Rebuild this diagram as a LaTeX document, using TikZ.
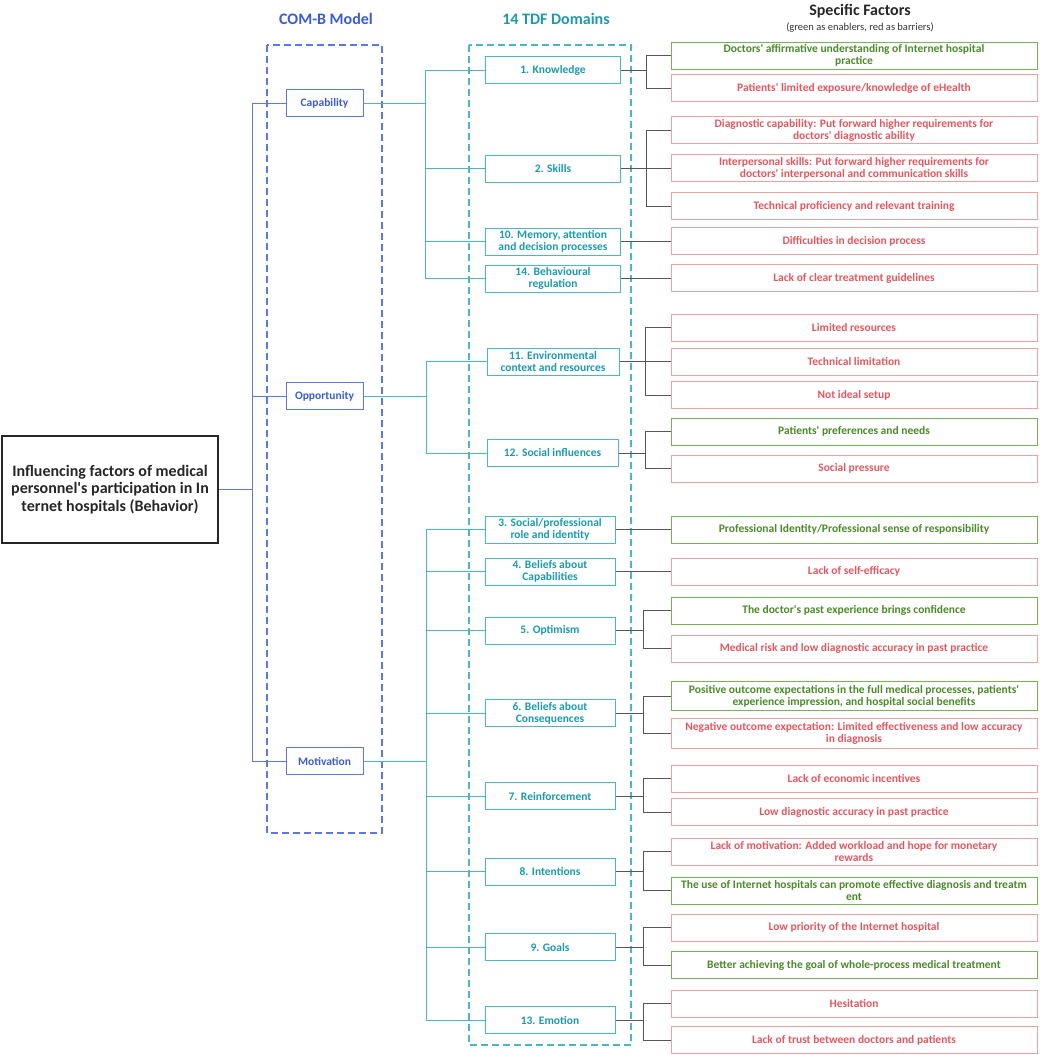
\documentclass[tikz,border=0pt]{standalone}
\usepackage{fontspec}
\setmainfont{Carlito}[Ligatures=TeXOff]
\definecolor{combB}{HTML}{5B79E0}
\definecolor{combT}{HTML}{3B5BD6}
\definecolor{tdfB}{HTML}{4DB6C6}
\definecolor{tdfT}{HTML}{1B9AAE}
\definecolor{grnB}{HTML}{77B255}
\definecolor{grnT}{HTML}{4B8A28}
\definecolor{redB}{HTML}{EFA0A0}
\definecolor{redT}{HTML}{E5575F}
\definecolor{conG}{HTML}{555555}
\tikzset{
  every node/.style={inner sep=1pt, align=center},
  lab/.style={font=\bfseries\fontsize{11.5}{12}\selectfont},
  combox/.style={lab, draw=combB, line width=1pt, text=combT, minimum width=77pt, minimum height=27pt},
  tdfbox/.style={lab, draw=tdfB, line width=1pt, text=tdfT, minimum width=#1, minimum height=27pt},
  tdfbox/.default=135pt,
  redbox/.style={lab, draw=redB, line width=1pt, text=redT, minimum width=366pt, minimum height=#1},
  redbox/.default=27pt,
  grnbox/.style={lab, draw=grnB, line width=1pt, text=grnT, minimum width=366pt, minimum height=#1},
  grnbox/.default=27pt,
  bline/.style={draw=combB, line width=1pt},
  tline/.style={draw=tdfB, line width=1pt},
  gline/.style={draw=conG, line width=1pt},
  hdr/.style={font=\bfseries\fontsize{16}{18}\selectfont},
}
\begin{document}
\begin{tikzpicture}[x=1pt,y=-1pt]
\useasboundingbox (0,0) rectangle (1040,1055);
% headers
\node[hdr, text=combT] (h1) at (326,19) {COM-B Model};
\node[hdr, text=tdfT] (h2) at (556,19) {14 TDF Domains};
\node[hdr, text=black!85] (h3) at (860,11) {Specific Factors};
\node[font=\fontsize{10.5}{12}\selectfont, text=black!80] (h4) at (860,28) {(green as enablers, red as barriers)};
% dashed frames
\draw[draw=combB, line width=1.3pt, dash pattern=on 7pt off 4pt] (267,45) rectangle (382,833);
\draw[draw=tdfB, line width=1.3pt, dash pattern=on 7pt off 4pt] (469,45) rectangle (631,1045);
% main node
\node[draw=black!85, line width=1.5pt, minimum width=216pt, minimum height=107pt, font=\bfseries\fontsize{16}{17.5}\selectfont, text=black!85] (main) at (110,489.5)
  {Influencing factors of medical\\personnel's participation in In\\ternet hospitals (Behavior)};
% COM-B
\node[combox] (cap) at (324.5,103) {Capability};
\node[combox] (opp) at (324.5,396) {Opportunity};
\node[combox] (mot) at (324.5,761) {Motivation};
% TDF
\node[tdfbox] (k1) at (553,70) {1. Knowledge};
\node[tdfbox] (k2) at (553,168.5) {2. Skills};
\node[tdfbox] (k10) at (553,241.5) {10. Memory, attention\\and decision processes};
\node[tdfbox] (k14) at (553,278.5) {14. Behavioural\\regulation};
\node[tdfbox=132pt] (k11) at (553,361.5) {11. Environmental\\context and resources};
\node[tdfbox=131pt] (k12) at (552.5,453) {12. Social influences};
\node[tdfbox=130pt] (k3) at (550,529.5) {3. Social/professional\\role and identity};
\node[tdfbox=130pt] (k4) at (550,571.5) {4. Beliefs about\\Capabilities};
\node[tdfbox=130pt] (k5) at (550,630.5) {5. Optimism};
\node[tdfbox=130pt] (k6) at (550,713) {6. Beliefs about\\Consequences};
\node[tdfbox=130pt] (k7) at (550,796) {7. Reinforcement};
\node[tdfbox=130pt] (k8) at (550,871.5) {8. Intentions};
\node[tdfbox=130pt] (k9) at (550,947) {9. Goals};
\node[tdfbox=130pt] (k13) at (550,1020) {13. Emotion};
% factors
\node[grnbox] (f1a) at (854,55.5) {Doctors' affirmative understanding of Internet hospital\\practice};
\node[redbox] (f1b) at (854,88) {Patients' limited exposure/knowledge of eHealth};
\node[redbox] (f2a) at (854,130) {Diagnostic capability: Put forward higher requirements for\\doctors' diagnostic ability};
\node[redbox] (f2b) at (854,168) {Interpersonal skills: Put forward higher requirements for\\doctors' interpersonal and communication skills};
\node[redbox] (f2c) at (854,206) {Technical proficiency and relevant training};
\node[redbox] (f10) at (854,241) {Difficulties in decision process};
\node[redbox] (f14) at (854,278) {Lack of clear treatment guidelines};
\node[redbox] (f11a) at (854,327.5) {Limited resources};
\node[redbox] (f11b) at (854,361.5) {Technical limitation};
\node[redbox] (f11c) at (854,395) {Not ideal setup};
\node[grnbox] (f12a) at (854,431.5) {Patients' preferences and needs};
\node[redbox] (f12b) at (854,468.5) {Social pressure};
\node[grnbox] (f3) at (854,529.5) {Professional Identity/Professional sense of responsibility};
\node[redbox] (f4) at (854,571.5) {Lack of self-efficacy};
\node[grnbox] (f5a) at (854,610.5) {The doctor's past experience brings confidence};
\node[redbox] (f5b) at (854,648.5) {Medical risk and low diagnostic accuracy in past practice};
\node[grnbox=29pt] (f6a) at (854,696) {Positive outcome expectations in the full medical processes, patients'\\experience impression, and hospital social benefits};
\node[redbox=30pt] (f6b) at (854,733) {Negative outcome expectation: Limited effectiveness and low accuracy\\in diagnosis};
\node[redbox] (f7a) at (854,778.5) {Lack of economic incentives};
\node[redbox] (f7b) at (854,812) {Low diagnostic accuracy in past practice};
\node[redbox] (f8a) at (854,851.5) {Lack of motivation: Added workload and hope for monetary\\rewards};
\node[grnbox] (f8b) at (854,890.5) {The use of Internet hospitals can promote effective diagnosis and treatm\\ent};
\node[redbox] (f9a) at (854,927.5) {Low priority of the Internet hospital};
\node[grnbox] (f9b) at (854,965) {Better achieving the goal of whole-process medical treatment};
\node[redbox] (f13a) at (854,1003.5) {Hesitation};
\node[redbox] (f13b) at (854,1040) {Lack of trust between doctors and patients};
% junctions
\coordinate (jm) at (252,489.5);
\coordinate (jc) at (425,103);
\coordinate (jo) at (426,396);
\coordinate (jmo) at (426,761);
\coordinate (xa) at (646,0);
\coordinate (xb) at (645,0);
\coordinate (xc) at (643,0);
% main -> COM-B
\draw[bline] (main.east) -- (jm);
\draw[bline] (cap.west) -| (jm);
\draw[bline] (opp.west) -| (jm);
\draw[bline] (mot.west) -| (jm);
% COM-B -> TDF
\draw[tline] (cap.east) -- (jc);
\foreach \k in {k1,k2,k10,k14} \draw[tline] (jc) |- (\k.west);
\draw[tline] (opp.east) -- (jo);
\foreach \k in {k11,k12} \draw[tline] (jo) |- (\k.west);
\draw[tline] (mot.east) -- (jmo);
\foreach \k in {k3,k4,k5,k6,k7,k8,k9,k13} \draw[tline] (jmo) |- (\k.west);
% TDF -> factors
\foreach \k/\x/\fs in {k1/xa/{f1a,f1b}, k2/xa/{f2a,f2b,f2c}, k10/xa/{f10}, k14/xa/{f14},
  k11/xb/{f11a,f11b,f11c}, k12/xb/{f12a,f12b}, k3/xc/{f3}, k4/xc/{f4}, k5/xc/{f5a,f5b},
  k6/xc/{f6a,f6b}, k7/xc/{f7a,f7b}, k8/xc/{f8a,f8b}, k9/xc/{f9a,f9b}, k13/xc/{f13a,f13b}} {
  \coordinate (j\k) at (\k.east -| \x);
  \draw[gline] (\k.east) -- (j\k);
  \foreach \f in \fs \draw[gline] (j\k) |- (\f.west);
}
\end{tikzpicture}
\end{document}
